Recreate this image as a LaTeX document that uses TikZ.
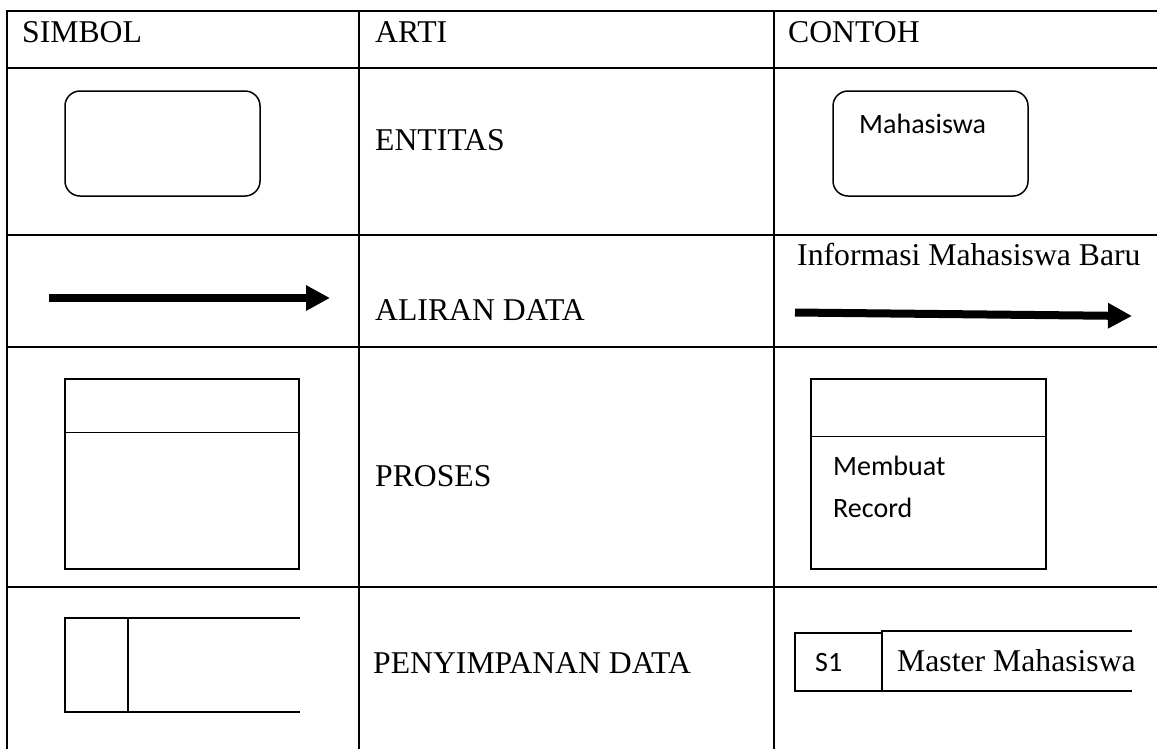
\documentclass[tikz,border=0pt]{standalone}
\usepackage{fontspec}
\setmainfont{Liberation Serif}
\newfontfamily\timesfont{Liberation Serif}
\newfontfamily\calibrifont{Carlito}
\usetikzlibrary{arrows.meta}

\tikzset{
  grid/.style={line width=2.5pt, line cap=rect},
  shape line/.style={draw, line width=1.5pt},
  txt/.style={anchor=base west, inner sep=0pt, font=\timesfont\fontsize{31.7}{38}\selectfont},
  ctxt/.style={anchor=base west, inner sep=0pt, font=\calibrifont\fontsize{28}{34}\selectfont},
  entitybox/.style={shape line, rounded corners=15pt, inner sep=0pt, minimum width=195pt, minimum height=105pt},
  procbox/.style={shape line, inner sep=0pt, minimum width=234pt, minimum height=190pt},
  flow/.style={line width=8pt, -{Triangle[length=24pt,width=24pt]}}
}

\begin{document}
\begin{tikzpicture}[x=1pt, y=-1pt]
\useasboundingbox (0,0) rectangle (1157,748);

% table rules
\foreach \yy in {11,68,235,347,587}
  \draw[grid] (7,\yy) -- (1160,\yy);
\foreach \xx in {7,359,774}
  \draw[grid] (\xx,11) -- (\xx,752);

% header
\node[txt] (hSimbol) at (22,42) {SIMBOL};
\node[txt] (hArti) at (375,42) {ARTI};
\node[txt] (hContoh) at (788,42) {CONTOH};

% row 1: entity
\node[entitybox] (entSym) at (162.5,143.5) {};
\node[txt] (tEnt) at (375,150) {ENTITAS};
\node[entitybox] (entEx) at (930.5,143.5) {};
\node[ctxt] (entExText) at (859,133) {Mahasiswa};

% row 2: data flow
\coordinate (f1a) at (49,298);
\coordinate (f1b) at (330,298);
\draw[flow] (f1a) -- (f1b);
\node[txt] (tFlow) at (375,320) {ALIRAN DATA};
\node[txt] (flowExText) at (797,265) {Informasi Mahasiswa Baru};
\coordinate (f2a) at (795,312.5);
\coordinate (f2b) at (1132,316);
\draw[flow] (f2a) -- (f2b);

% row 3: process
\node[procbox] (procSym) at (182,474) {};
\draw[line width=1.5pt] ([yshift=-54pt]procSym.north west) -- ([yshift=-54pt]procSym.north east);
\node[txt] (tProc) at (375,486) {PROSES};
\node[procbox, minimum width=235pt] (procEx) at (928.5,474) {};
\draw[line width=1.5pt] ([yshift=-58pt]procEx.north west) -- ([yshift=-58pt]procEx.north east);
\node[ctxt] (procL1) at (833,475) {Membuat};
\node[ctxt] (procL2) at (833,517) {Record};

% row 4: data store
\coordinate (s1tr) at (300,618);
\coordinate (s1tl) at (65,618);
\coordinate (s1bl) at (65,712);
\coordinate (s1br) at (300,712);
\draw[line width=1.5pt] (s1tr) -- (s1tl) -- (s1bl) -- (s1br);
\draw[line width=1.5pt] (128,618) -- (128,712);
\node[txt] (tStore) at (373,673) {PENYIMPANAN DATA};

\coordinate (s2tr) at (1132,631);
\coordinate (s2tl) at (795,633);
\coordinate (s2bl) at (795,691);
\coordinate (s2br) at (1132,691);
\draw[line width=1.5pt] (882,633) -- (s2tl) -- (s2bl) -- (s2br);
\draw[line width=1.5pt] (882,691) -- (882,631) -- (s2tr);
\node[ctxt] (storeId) at (815,671) {S1};
\node[txt] (storeName) at (897,671) {Master Mahasiswa};
\end{tikzpicture}
\end{document}
